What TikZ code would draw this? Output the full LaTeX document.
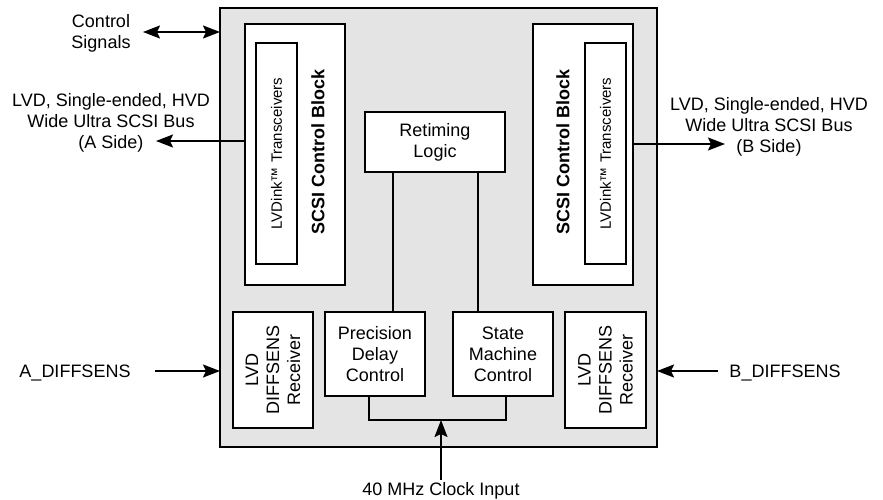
\documentclass[tikz,border=0pt]{standalone}
\usepackage{fontspec}
\setmainfont{Liberation Sans}
\usetikzlibrary{arrows.meta}
\definecolor{chipgray}{HTML}{E4E4E4}
\newcommand{\bigtxt}{\fontsize{18}{21}\selectfont}
\newcommand{\smalltxt}{\fontsize{15}{18}\selectfont}
\begin{document}
\begin{tikzpicture}[x=1pt,y=-1pt,
  every node/.style={font=\bigtxt, inner sep=0pt, outer sep=0pt},
  blk/.style={draw, fill=white, line width=1.2pt, rectangle},
  wire/.style={line width=1.2pt},
  arr/.style={line width=1.8pt, -{Stealth[length=17pt,width=13pt,inset=3pt]}},
  darr/.style={line width=1.8pt, {Stealth[length=17pt,width=13pt,inset=3pt]}-{Stealth[length=17pt,width=13pt,inset=3pt]}},
  lbl/.style={align=center}]
\useasboundingbox (0,0) rectangle (883,500);
% chip outline
\node[draw, fill=chipgray, line width=2pt, minimum width=437pt, minimum height=439pt] (chip) at (438.5,227.5) {};
% SCSI control blocks
\node[blk, minimum width=100pt, minimum height=261pt] (sA) at (295,154.5) {};
\node[blk, rotate=90, minimum width=221pt, minimum height=41pt, font=\smalltxt] (tA) at (276.5,153.5) {LVDink™ Transceivers};
\node[rotate=90, font=\bigtxt\bfseries] (cbA) at (318,152) {SCSI Control Block};
\node[blk, minimum width=100pt, minimum height=261pt] (sB) at (583,154.5) {};
\node[blk, rotate=90, minimum width=221pt, minimum height=41pt, font=\smalltxt] (tB) at (605.5,153.5) {LVDink™ Transceivers};
\node[rotate=90, font=\bigtxt\bfseries] (cbB) at (563,152) {SCSI Control Block};
% internal blocks
\node[blk, lbl, minimum width=140pt, minimum height=60pt] (retime) at (435,142) {Retiming\\Logic};
\node[blk, lbl, minimum width=100pt, minimum height=84pt] (pd) at (375,354) {Precision\\Delay\\Control};
\node[blk, lbl, minimum width=100pt, minimum height=84pt] (sm) at (503,354) {State\\Machine\\Control};
\node[blk, lbl, rotate=90, minimum width=116pt, minimum height=80pt] (dA) at (273,370) {LVD\\DIFFSENS\\Receiver};
\node[blk, lbl, rotate=90, minimum width=116pt, minimum height=81pt] (dB) at (605.5,370) {LVD\\DIFFSENS\\Receiver};
% internal wiring
\coordinate (x1) at (393,0);
\coordinate (x2) at (478,0);
\draw[wire] (retime.south -| x1) -- (pd.north -| x1);
\draw[wire] (retime.south -| x2) -- (sm.north -| x2);
\coordinate (join) at (441,420);
\coordinate (b1) at (369,420);
\coordinate (b2) at (506,420);
\draw[wire] (pd.south -| b1) -- (b1) -- (b2) -- (sm.south -| b2);
% clock input
\node[anchor=base] (clktxt) at (441,495) {40 MHz Clock Input};
\draw[arr] ([yshift=2pt]clktxt.north) -- (join);
% control signals
\node[lbl] (ctl) at (101,33.5) {Control\\Signals};
\coordinate (cs) at (143,32);
\draw[darr] (cs) -- (chip.west |- cs);
% A side bus
\node[lbl] (aTxt) at (111,122.5) {LVD, Single-ended, HVD\\Wide Ultra SCSI Bus\\(A Side)};
\coordinate (aS) at (156,141);
\draw[arr] (sA.west |- aS) -- (aS);
% B side bus
\node[lbl] (bTxt) at (769,127) {LVD, Single-ended, HVD\\Wide Ultra SCSI Bus\\(B Side)};
\coordinate (bS) at (725,144);
\draw[arr] (sB.east |- bS) -- (bS);
% DIFFSENS inputs
\node[anchor=base] (adf) at (75,377) {A\_DIFFSENS};
\coordinate (adS) at (155,371);
\draw[arr] (adS) -- (chip.west |- adS);
\node[anchor=base] (bdf) at (785,377) {B\_DIFFSENS};
\coordinate (bdS) at (718,371);
\draw[arr] (bdS) -- (chip.east |- bdS);
\end{tikzpicture}
\end{document}
